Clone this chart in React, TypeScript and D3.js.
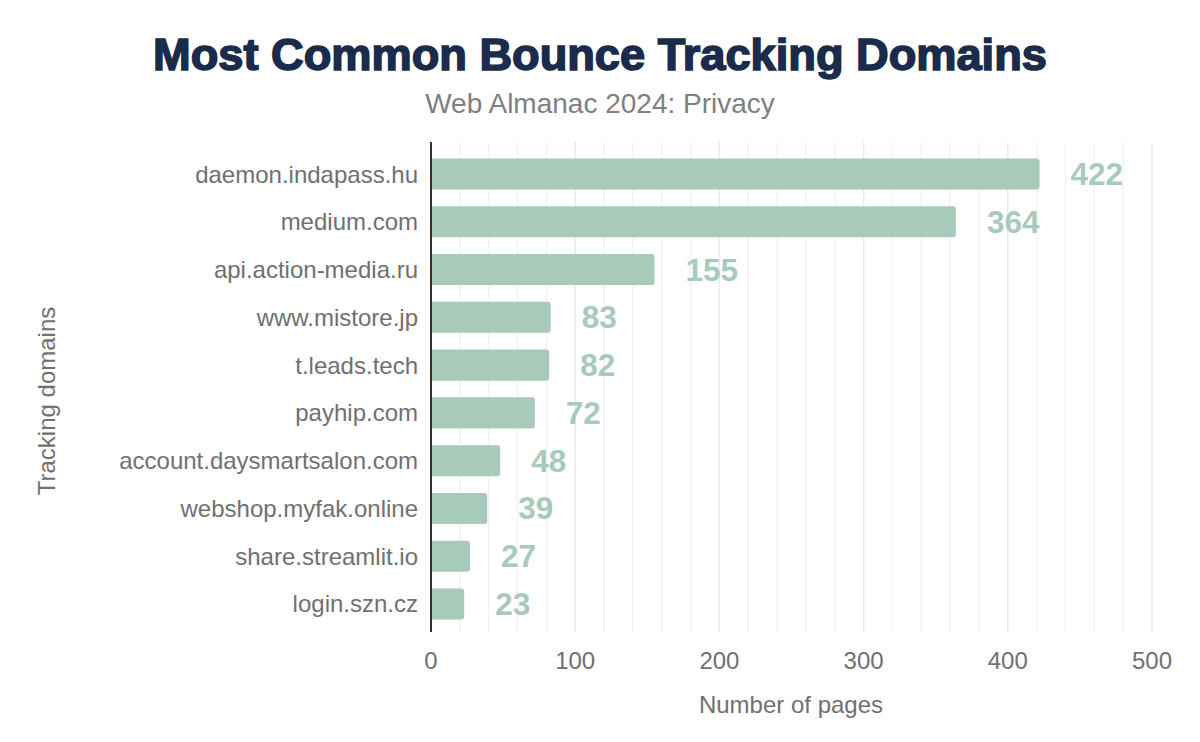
import React from "react";
import * as d3 from "d3";

const categories = [
  "daemon.indapass.hu",
  "medium.com",
  "api.action-media.ru",
  "www.mistore.jp",
  "t.leads.tech",
  "payhip.com",
  "account.daysmartsalon.com",
  "webshop.myfak.online",
  "share.streamlit.io",
  "login.szn.cz",
];
const values = [422, 364, 155, 83, 82, 72, 48, 39, 27, 23];
const xTicks = [0, 100, 200, 300, 400, 500];

const W = 1200, H = 742;
const left = 431, right = 1152, top = 142, bottom = 632;
const font = "'Liberation Sans', Arial, Helvetica, sans-serif";
const barColor = "#a8cabb";
const textColor = "#707070";

export default function App() {
  const x = d3.scaleLinear().domain([0, 500]).range([left, right]);
  const y = d3.scaleBand<string>().domain(categories).range([158.5, 619.5]).paddingInner(0.35).paddingOuter(0);
  const minor = d3.range(0, 501, 20);
  const bw = y.bandwidth();
  const r = 3;
  return (
    <svg width={W} height={H} style={{ position: "absolute", left: 0, top: 0, background: "#fff" }} fontFamily={font}>
      <rect width={W} height={H} fill="#fff" />
      <text x={600} y={70} textAnchor="middle" fontSize={45.2} fontWeight={900} fill="#1a2b4b" stroke="#1a2b4b" strokeWidth={1.6}>
        Most Common Bounce Tracking Domains
      </text>
      <text x={600} y={113} textAnchor="middle" fontSize={28} fill="#7f7f7f">
        Web Almanac 2024: Privacy
      </text>
      {minor.map((t) => (
        <line key={t} x1={x(t)} x2={x(t)} y1={top} y2={bottom} stroke={t % 100 === 0 ? "#ebebeb" : "#f3f3f3"} strokeWidth={1.5} />
      ))}
      {categories.map((c, i) => {
        const x0 = x(0), x1 = x(values[i]), y0 = y(c)!;
        const w = x1 - x0;
        const rr = Math.min(r, w / 2);
        const d = `M${x0},${y0} H${x1 - rr} Q${x1},${y0} ${x1},${y0 + rr} V${y0 + bw - rr} Q${x1},${y0 + bw} ${x1 - rr},${y0 + bw} H${x0} Z`;
        return (
          <g key={c}>
            <path d={d} fill={barColor} />
            <text x={x1 + 31} y={y0 + bw / 2 + 11} fontSize={31.5} fontWeight={700} fill={barColor}>
              {values[i]}
            </text>
            <text x={418} y={y0 + bw / 2 + 8.5} textAnchor="end" fontSize={24} fill={textColor}>
              {c}
            </text>
          </g>
        );
      })}
      <line x1={left} x2={left} y1={top} y2={bottom} stroke="#333" strokeWidth={2} />
      {xTicks.map((t) => (
        <text key={t} x={x(t)} y={669} textAnchor="middle" fontSize={24} fill={textColor}>
          {t}
        </text>
      ))}
      <text x={791} y={713} textAnchor="middle" fontSize={24} fill={textColor}>
        Number of pages
      </text>
      <text transform={`translate(55,${401}) rotate(-90)`} textAnchor="middle" fontSize={24} fill={textColor}>
        Tracking domains
      </text>
    </svg>
  );
}
